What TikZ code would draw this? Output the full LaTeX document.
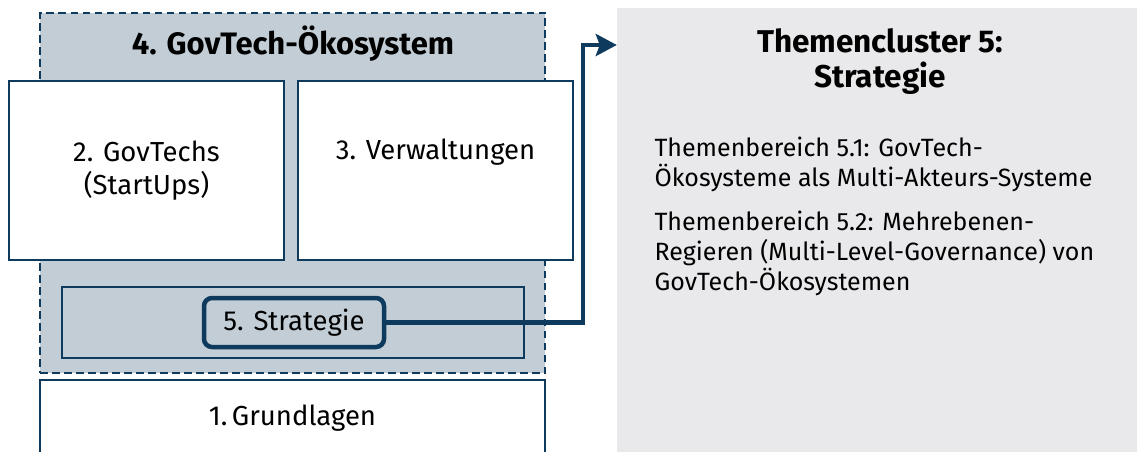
\documentclass[tikz,border=0pt]{standalone}
\usepackage{fontspec}
\setmainfont{Fira Sans}
\usepackage{tikz}
\usetikzlibrary{arrows.meta, calc}

\definecolor{navy}{HTML}{0E3A5E}
\definecolor{ecofill}{HTML}{C2CDD6}
\definecolor{panel}{HTML}{E9E9EB}

\begin{document}
\begin{tikzpicture}[x=1pt, y=-1pt, >={Stealth[length=21pt, width=22pt, inset=4pt]},
  font=\fontsize{27.5}{33}\selectfont,
  box/.style={draw=navy, line width=2pt, fill=white, shape=rectangle, inner sep=0pt},
  ecobox/.style={draw=navy, line width=2.3pt, dash pattern=on 7.5pt off 4.5pt, fill=ecofill, inner sep=0pt},
  strat/.style={draw=navy, line width=4.5pt, rounded corners=8pt, inner sep=0pt},
  link/.style={->, draw=navy, line width=4.5pt}]

  \useasboundingbox (0,0) rectangle (1137,452);

  \node[fill=panel, minimum width=520pt, minimum height=452pt, inner sep=0pt] (panel) at (877,234) {};
  \node[ecobox, minimum width=505pt, minimum height=360pt] (eco) at (292.5,193) {};
  \node[font=\fontsize{31}{35}\selectfont\bfseries] (ecotitle) at (293,44) {4. GovTech-Ökosystem};

  \node[box, minimum width=275pt, minimum height=179pt, align=center] (startups) at (146.5,170.5) {2. GovTechs\\(StartUps)};
  \node[box, minimum width=275pt, minimum height=179pt, align=center] (verw) at (435.5,170.5) {3. Verwaltungen\\\strut};

  \node[box, fill=none, minimum width=462pt, minimum height=71pt] (frame) at (293,322.5) {};
  \node[strat, minimum width=180pt, minimum height=49pt] (strategie) at (294,322.5) {5. Strategie};

  \node[box, minimum width=505pt, minimum height=76pt] (grund) at (292.5,418) {1.\,Grundlagen};

  \node[font=\fontsize{31.5}{35}\selectfont\bfseries, align=center] (cluster) at (880,62) {Themencluster 5:\\Strategie};
  \node[anchor=north west, align=left, font=\fontsize{25}{30}\selectfont] (bereich1) at (651,133)
    {Themenbereich 5.1: GovTech-\\Ökosysteme als Multi-Akteurs-Systeme};
  \node[anchor=north west, align=left, font=\fontsize{25}{30}\selectfont] (bereich2) at (651,207)
    {Themenbereich 5.2: Mehrebenen-\\Regieren (Multi-Level-Governance) von\\GovTech-Ökosystemen};

  \coordinate (knick) at (583,45);
  \path[link] (strategie) -| (knick) -- (panel.west |- knick);
\end{tikzpicture}
\end{document}
